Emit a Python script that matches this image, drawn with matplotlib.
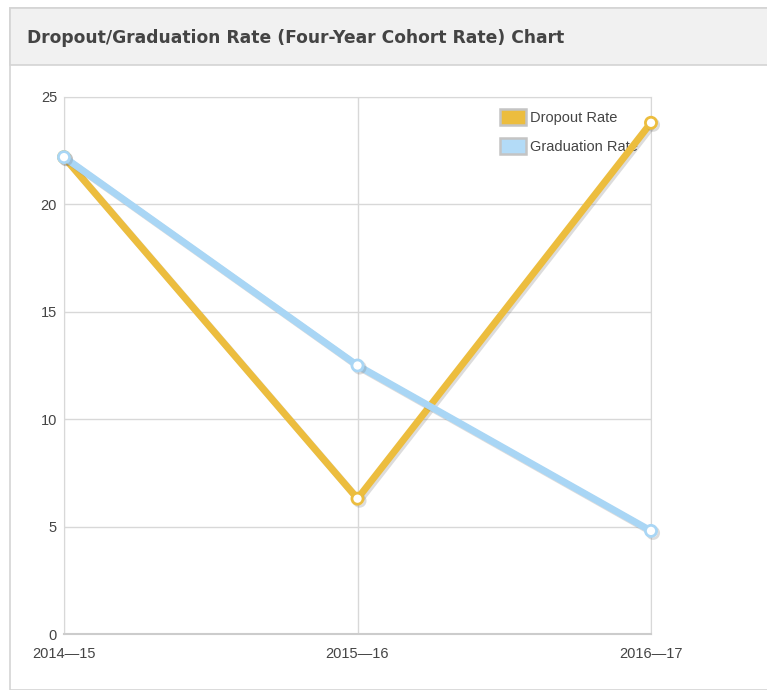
import matplotlib.pyplot as plt
import matplotlib.patheffects as pe
from matplotlib.patches import Rectangle, Patch

# data
years = ["2014\u201415", "2015\u201416", "2016\u201417"]
dropout_rate = [22.2, 6.3, 23.8]
graduation_rate = [22.2, 12.5, 4.8]
y_ticks = [0, 5, 10, 15, 20, 25]

W, H = 767, 690
fig = plt.figure(figsize=(W / 100, H / 100), dpi=100)

# panel frame and header band
fig.patches.append(Rectangle((10 / W, 0), 1, (H - 8) / H, transform=fig.transFigure,
                             facecolor="white", edgecolor="#d4d4d4", lw=1.2, zorder=-2))
fig.patches.append(Rectangle((10 / W, (H - 65) / H), 1, 57 / H, transform=fig.transFigure,
                             facecolor="#f1f1f1", edgecolor="#d4d4d4", lw=1.2, zorder=-1))
fig.text(27 / W, 1 - 38 / H, "Dropout/Graduation Rate (Four-Year Cohort Rate) Chart",
         fontsize=12.3, fontweight="bold", color="#444444", va="center", ha="left",
         family="DejaVu Sans Condensed")

ax = fig.add_axes([64 / W, (H - 634) / H, (651 - 64) / W, (634 - 97) / H])
ax.set_zorder(5)
x = range(len(years))

shadow = [pe.SimpleLineShadow(offset=(1.5, -1.5), alpha=0.25, shadow_color="#777777"), pe.Normal()]
ax.plot(x, dropout_rate, color="#ecbd3e", lw=5, marker="o", markersize=8,
        markerfacecolor="white", markeredgecolor="#ecbd3e", markeredgewidth=2,
        path_effects=shadow, zorder=3, solid_capstyle="round", clip_on=False)
ax.plot(x, graduation_rate, color="#a9d6f5", lw=5, marker="o", markersize=8,
        markerfacecolor="white", markeredgecolor="#a9d6f5", markeredgewidth=2,
        path_effects=shadow, zorder=4, solid_capstyle="round", clip_on=False)

ax.set_xlim(0, 2)
ax.set_ylim(0, 25)
ax.set_xticks(list(x))
ax.set_xticklabels(years)
ax.set_yticks(y_ticks)
ax.grid(True, color="#d8d8d8", lw=1)
ax.set_axisbelow(True)
for s in ax.spines.values():
    s.set_color("#d8d8d8")
ax.spines["bottom"].set_color("#cccccc")
ax.spines["bottom"].set_linewidth(1.5)
ax.tick_params(length=0, colors="#444444", labelsize=10.5)
ax.tick_params(axis="x", pad=9.5)
ax.tick_params(axis="y", pad=5)
for lab in ax.get_xticklabels() + ax.get_yticklabels():
    lab.set_family("Liberation Sans")

handles = [Patch(facecolor="#ecbd3e", edgecolor="#c4c4c4", lw=1.8, label="Dropout Rate"),
           Patch(facecolor="#b3dbf7", edgecolor="#c4c4c4", lw=1.8, label="Graduation Rate")]
leg = ax.legend(handles=handles, loc="upper left", bbox_to_anchor=(0.743, 0.978),
                frameon=False, handlelength=1.75, handleheight=1.35, handletextpad=0.3,
                labelspacing=0.85, borderpad=0, borderaxespad=0,
                prop={"family": "Liberation Sans", "size": 10.5})
for t in leg.get_texts():
    t.set_color("#444444")
leg.set_zorder(2)

fig.savefig("out.png", dpi=100)
